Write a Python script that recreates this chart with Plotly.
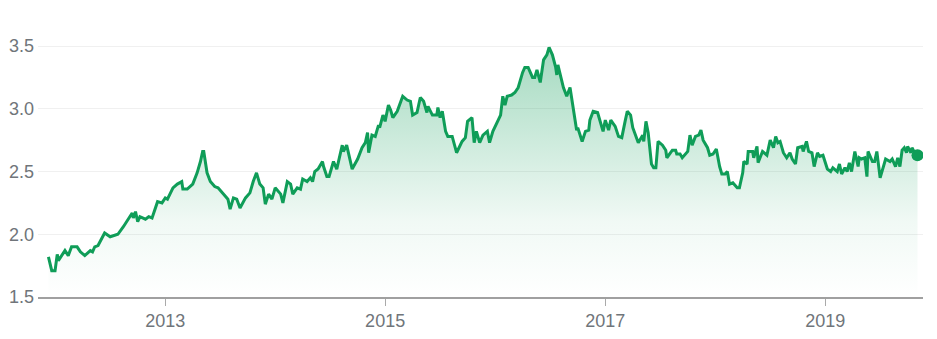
import pandas as pd
import plotly.graph_objects as go

# time as decimal years
t_year = [
    2011.94, 2011.97, 2012.00, 2012.02, 2012.03, 2012.07, 2012.09, 2012.12, 2012.15, 2012.20,
    2012.23, 2012.27, 2012.32, 2012.34, 2012.36, 2012.39, 2012.43, 2012.45, 2012.50, 2012.55,
    2012.57, 2012.62, 2012.65, 2012.68, 2012.70, 2012.71, 2012.73, 2012.75, 2012.77, 2012.82,
    2012.85, 2012.88, 2012.91, 2012.93, 2012.97, 2013.00, 2013.02, 2013.05, 2013.07, 2013.11,
    2013.15, 2013.16, 2013.20, 2013.25, 2013.29, 2013.32, 2013.34, 2013.35, 2013.38, 2013.41,
    2013.45, 2013.48, 2013.52, 2013.55, 2013.57, 2013.59, 2013.62, 2013.65, 2013.68, 2013.73,
    2013.77, 2013.80, 2013.83, 2013.86, 2013.89, 2013.91, 2013.94, 2013.97, 2014.00, 2014.05,
    2014.07, 2014.11, 2014.14, 2014.16, 2014.20, 2014.23, 2014.25, 2014.29, 2014.32, 2014.34,
    2014.36, 2014.39, 2014.43, 2014.44, 2014.47, 2014.49, 2014.53, 2014.56, 2014.57, 2014.61,
    2014.62, 2014.65, 2014.70, 2014.73, 2014.75, 2014.79, 2014.82, 2014.84, 2014.85, 2014.88,
    2014.91, 2014.94, 2014.95, 2014.98, 2015.00, 2015.03, 2015.05, 2015.07, 2015.11, 2015.16,
    2015.20, 2015.23, 2015.25, 2015.29, 2015.32, 2015.35, 2015.38, 2015.39, 2015.43, 2015.47,
    2015.48, 2015.50, 2015.52, 2015.55, 2015.57, 2015.61, 2015.65, 2015.70, 2015.73, 2015.75,
    2015.79, 2015.81, 2015.83, 2015.86, 2015.89, 2015.93, 2015.95, 2015.98, 2016.02, 2016.05,
    2016.07, 2016.09, 2016.11, 2016.15, 2016.18, 2016.21, 2016.25, 2016.27, 2016.30, 2016.34,
    2016.36, 2016.38, 2016.41, 2016.44, 2016.47, 2016.49, 2016.52, 2016.55, 2016.56, 2016.57,
    2016.62, 2016.65, 2016.68, 2016.71, 2016.74, 2016.75, 2016.79, 2016.82, 2016.85, 2016.86,
    2016.89, 2016.93, 2016.95, 2016.98, 2017.00, 2017.03, 2017.05, 2017.09, 2017.12, 2017.15,
    2017.18, 2017.20, 2017.23, 2017.25, 2017.30, 2017.34, 2017.35, 2017.37, 2017.39, 2017.42,
    2017.44, 2017.46, 2017.48, 2017.52, 2017.55, 2017.56, 2017.61, 2017.64, 2017.65, 2017.68,
    2017.70, 2017.73, 2017.75, 2017.77, 2017.79, 2017.82, 2017.85, 2017.87, 2017.89, 2017.93,
    2017.95, 2017.98, 2018.01, 2018.04, 2018.06, 2018.09, 2018.11, 2018.13, 2018.16, 2018.20,
    2018.22, 2018.25, 2018.26, 2018.29, 2018.30, 2018.34, 2018.35, 2018.38, 2018.39, 2018.43,
    2018.47, 2018.50, 2018.53, 2018.55, 2018.57, 2018.59, 2018.62, 2018.65, 2018.68, 2018.70,
    2018.73, 2018.75, 2018.79, 2018.80, 2018.83, 2018.85, 2018.88, 2018.90, 2018.93, 2018.95,
    2018.98, 2019.02, 2019.05, 2019.07, 2019.11, 2019.13, 2019.15, 2019.18, 2019.20, 2019.22,
    2019.24, 2019.27, 2019.30, 2019.31, 2019.33, 2019.36, 2019.38, 2019.39, 2019.43, 2019.45,
    2019.47, 2019.50, 2019.53, 2019.55, 2019.59, 2019.61, 2019.64, 2019.66, 2019.68, 2019.70,
    2019.72, 2019.74, 2019.75, 2019.78, 2019.79, 2019.82, 2019.84,
]

price = [
    1.82, 1.71, 1.71, 1.84, 1.79, 1.84, 1.87, 1.83, 1.90, 1.90,
    1.86, 1.83, 1.87, 1.86, 1.90, 1.91, 1.98, 2.01, 1.98, 1.99,
    2.00, 2.06, 2.10, 2.14, 2.17, 2.13, 2.18, 2.10, 2.14, 2.12,
    2.14, 2.13, 2.20, 2.26, 2.25, 2.29, 2.28, 2.33, 2.37, 2.40,
    2.42, 2.36, 2.36, 2.40, 2.49, 2.58, 2.66, 2.66, 2.49, 2.42,
    2.38, 2.37, 2.33, 2.30, 2.28, 2.20, 2.29, 2.28, 2.21, 2.29,
    2.33, 2.42, 2.49, 2.40, 2.37, 2.24, 2.32, 2.28, 2.37, 2.32,
    2.25, 2.42, 2.40, 2.32, 2.37, 2.36, 2.44, 2.42, 2.45, 2.42,
    2.50, 2.52, 2.58, 2.54, 2.46, 2.46, 2.58, 2.52, 2.56, 2.71,
    2.66, 2.71, 2.52, 2.57, 2.60, 2.69, 2.73, 2.81, 2.65, 2.79,
    2.78, 2.87, 2.85, 2.95, 2.90, 3.03, 2.99, 2.93, 2.98, 3.10,
    3.07, 3.06, 2.95, 2.97, 3.09, 3.06, 2.97, 3.02, 2.95, 2.95,
    3.01, 2.93, 2.98, 2.82, 2.78, 2.78, 2.65, 2.74, 2.77, 2.90,
    2.93, 2.73, 2.82, 2.73, 2.79, 2.82, 2.73, 2.82, 2.89, 2.95,
    3.10, 3.03, 3.10, 3.11, 3.13, 3.17, 3.29, 3.33, 3.33, 3.25,
    3.25, 3.31, 3.21, 3.39, 3.43, 3.49, 3.43, 3.33, 3.27, 3.35,
    3.17, 3.10, 3.17, 2.99, 2.83, 2.85, 2.74, 2.82, 2.83, 2.91,
    2.98, 2.97, 2.90, 2.82, 2.91, 2.83, 2.91, 2.86, 2.78, 2.77,
    2.90, 2.98, 2.95, 2.85, 2.73, 2.79, 2.74, 2.90, 2.81, 2.56,
    2.53, 2.53, 2.74, 2.71, 2.67, 2.61, 2.67, 2.67, 2.64, 2.64,
    2.61, 2.64, 2.66, 2.79, 2.71, 2.78, 2.79, 2.83, 2.75, 2.69,
    2.63, 2.64, 2.68, 2.54, 2.48, 2.48, 2.50, 2.40, 2.41, 2.37,
    2.37, 2.49, 2.58, 2.56, 2.66, 2.66, 2.61, 2.70, 2.57, 2.66,
    2.63, 2.75, 2.69, 2.78, 2.73, 2.74, 2.65, 2.61, 2.65, 2.60,
    2.56, 2.69, 2.70, 2.66, 2.74, 2.66, 2.65, 2.54, 2.65, 2.62,
    2.63, 2.52, 2.50, 2.53, 2.50, 2.56, 2.48, 2.53, 2.50, 2.57,
    2.50, 2.66, 2.54, 2.61, 2.60, 2.61, 2.46, 2.66, 2.58, 2.58,
    2.66, 2.45, 2.53, 2.60, 2.58, 2.60, 2.54, 2.61, 2.54, 2.67,
    2.69, 2.65, 2.70, 2.65, 2.69, 2.64, 2.63,
]

y_ticks = [1.5, 2.0, 2.5, 3.0, 3.5]
x_tick_years = [2013, 2015, 2017, 2019]
x_range_years = [2011.845, 2019.89]


def to_date(fy):
    y = int(fy)
    start = pd.Timestamp(year=y, month=1, day=1)
    end = pd.Timestamp(year=y + 1, month=1, day=1)
    return start + (end - start) * (fy - y)


dates = [to_date(v) for v in t_year]

GREEN = "rgb(15,157,88)"
FONT = "Arial, Liberation Sans, sans-serif"

fig = go.Figure()
fig.add_trace(go.Scatter(
    x=dates, y=price, mode="lines",
    line=dict(color=GREEN, width=3),
    fill="tozeroy",
    fillgradient=dict(
        type="vertical", start=1.5, stop=3.5,
        colorscale=[[0.0, "rgba(15,157,88,0.0)"], [0.3, "rgba(15,157,88,0.06)"],
                    [1.0, "rgba(15,157,88,0.38)"]],
    ),
    hoverinfo="skip", showlegend=False,
))
fig.add_trace(go.Scatter(
    x=[dates[-1]], y=[price[-1]], mode="markers",
    marker=dict(color=GREEN, size=12),
    hoverinfo="skip", showlegend=False,
))

fig.update_layout(
    width=937, height=339,
    margin=dict(l=38, r=14, t=21, b=42),
    paper_bgcolor="white", plot_bgcolor="white",
    font=dict(family=FONT, size=18, color="rgb(112,117,122)"),
    xaxis=dict(
        automargin=False,
        range=[to_date(x_range_years[0]), to_date(x_range_years[1])],
        tickvals=[pd.Timestamp(year=y, month=1, day=1) for y in x_tick_years],
        ticktext=[str(y) for y in x_tick_years],
        showgrid=False, zeroline=False,
        showline=True, linecolor="rgb(160,160,160)", linewidth=1.5,
        ticks="outside", ticklen=7, tickcolor="rgb(170,170,170)", tickwidth=1,
        ticklabelstandoff=0,
        tickfont=dict(size=18),
    ),
    yaxis=dict(
        automargin=False,
        range=[1.5, 3.7],
        tickvals=y_ticks,
        ticktext=[f"{v:.1f}" for v in y_ticks],
        showgrid=True, gridcolor="rgb(240,240,240)", gridwidth=1,
        zeroline=False, showline=False, ticks="",
        ticklabelstandoff=3,
        tickfont=dict(size=18),
    ),
)

fig.write_html("out.html")
